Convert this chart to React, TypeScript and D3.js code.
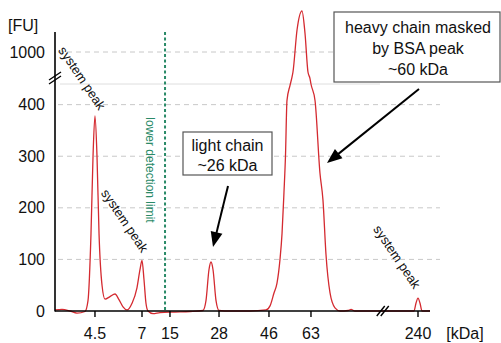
import React from "react";
import * as d3 from "d3";

// migration time (s) vs fluorescence (FU)
const traceTime = [20, 20.93, 22, 22.93, 24, 24.4, 24.8, 25.07, 25.33, 25.6, 25.87, 26.27, 26.67, 27.33, 28, 28.53, 29.07, 29.6, 30.27, 30.93, 31.33, 31.6, 31.87, 32.13, 32.4, 33.07, 34, 36, 38, 39.73, 40.13, 40.53, 40.8, 41.07, 41.47, 41.87, 43.33, 46, 48.13, 48.67, 49.2, 49.6, 50, 50.27, 50.53, 50.73, 50.93, 51.33, 51.6, 51.73, 52.27, 52.93, 53.33, 53.73, 54, 54.13, 54.67, 55.33, 55.73, 56.13, 56.67, 57.33, 58, 59.07, 59.47, 60, 63.33, 64.67, 67.87, 68.13, 68.4, 68.67, 68.93, 70];
const traceFU = [2, 3, 0, -4, -1, 20, 150, 300, 378, 300, 150, 50, 23, 28, 33, 22, 8, 2, 15, 45, 80, 98, 60, 15, 0, -5, -3, -2, -1, 1, 20, 80, 95, 80, 20, 1, 0, 0, 2, 10, 35, 54, 100, 150, 230, 300, 408, 437, 700, 900, 1110, 1205, 1095, 900, 650, 440, 408, 267, 215, 110, 35, 6, 0, 1, 3, 0, 0, 0, 0, 15, 25, 15, 0, 0];

const ladderLabels = ["4.5", "7", "15", "28", "46", "63", "240"];
const ladderTimes = [25.33, 31.6, 35.33, 41.87, 48.53, 54.13, 68.4];
const lowerGrid = [100, 200, 300, 400];
const upperGrid = [1000];
const yLabels = ["0", "100", "200", "300", "400", "1000"];
const yLabelValues = [0, 100, 200, 300, 400, 1000];
const detectionLimitTime = 34.67;
const xBreakTime = 63.7;
const systemPeakLabels = [
  { t: 23.6, v: 670, text: "system peak" },
  { t: 29.3, v: 175, text: "system peak" },
  { t: 65.6, v: 105, text: "system peak" },
];

const RED = "#d42a30";
const GREEN = "#2a8a68";
const FONT = "'Liberation Sans', Arial, sans-serif";

export default function App() {
  const W = 501, H = 343;
  const x = d3.scaleLinear().domain([20, 70]).range([55, 430]);
  // broken y axis: lower 0..440, gap, upper 900..1100
  const y = d3.scaleLinear().domain([0, 440, 900, 1100]).range([311, 84, 72, 32]);
  const pts: [number, number][] = traceTime.map((t, i) => [t, traceFU[i]]);
  const line = d3
    .line<[number, number]>()
    .x((d) => x(d[0]))
    .y((d) => y(d[1]))
    .curve(d3.curveMonotoneX);

  const arrow = (x1: number, y1: number, x2: number, y2: number) => {
    const ang = Math.atan2(y2 - y1, x2 - x1);
    const L = 15, Wd = 6;
    const bx = x2 - L * Math.cos(ang), by = y2 - L * Math.sin(ang);
    const px = -Math.sin(ang) * Wd, py = Math.cos(ang) * Wd;
    return (
      <g>
        <line x1={x1} y1={y1} x2={bx + 2 * Math.cos(ang)} y2={by + 2 * Math.sin(ang)} stroke="#000" strokeWidth={2} />
        <path d={`M${x2},${y2}L${bx + px},${by + py}L${bx - px},${by - py}Z`} fill="#000" />
      </g>
    );
  };

  const x0 = 55;
  return (
    <svg width={W} height={H} style={{ display: "block", position: "absolute", left: 0, top: 0 }} fontFamily={FONT}>
      <rect width={W} height={H} fill="#fff" />
      {/* gridlines */}
      {lowerGrid.concat(upperGrid).map((v) => (
        <line key={v} x1={58} x2={440} y1={y(v)} y2={y(v)} stroke="#c8c8c8" strokeWidth={1} strokeDasharray="5,4" />
      ))}
      <line x1={60} x2={380} y1={y(440)} y2={y(440)} stroke="#dedede" strokeWidth={1} />
      {/* detection limit */}
      <line x1={x(detectionLimitTime)} x2={x(detectionLimitTime)} y1={32} y2={311} stroke={GREEN} strokeWidth={2} strokeDasharray="3,2.5" />
      <text
        transform={`translate(${x(detectionLimitTime) - 15},${170}) rotate(90)`}
        textAnchor="middle"
        dominantBaseline="central"
        fontSize={12}
        fill={GREEN}
      >
        lower detection limit
      </text>
      {/* trace */}
      <path d={line(pts) || ""} fill="none" stroke={RED} strokeWidth={1.3} />
      {/* axes */}
      <line x1={x0} x2={x0} y1={32} y2={311.5} stroke="#000" strokeWidth={1.6} />
      <line x1={x0} x2={430} y1={311} y2={311} stroke="#000" strokeWidth={1.6} />
      {/* y break */}
      {[-2, 2].map((o) => (
        <line key={o} x1={x0 - 6} y1={78 + o + 4} x2={x0 + 6} y2={78 + o - 4} stroke="#000" strokeWidth={1.4} />
      ))}
      {/* x break */}
      {[-2, 2].map((o) => (
        <line key={o} x1={x(xBreakTime) + o - 4} y1={316} x2={x(xBreakTime) + o + 4} y2={306} stroke="#000" strokeWidth={1.4} />
      ))}
      {/* x ticks */}
      {ladderTimes.map((t, i) => (
        <g key={i}>
          <line x1={x(t)} x2={x(t)} y1={311} y2={317} stroke="#000" strokeWidth={1.4} />
          <text x={x(t)} y={339} textAnchor="middle" fontSize={16} fill="#111">
            {ladderLabels[i]}
          </text>
        </g>
      ))}
      <text x={465} y={339} textAnchor="middle" fontSize={16} fill="#111">[kDa]</text>
      {/* y labels */}
      {yLabelValues.map((v, i) => (
        <text key={v} x={45} y={y(v)} textAnchor="end" dominantBaseline="central" fontSize={16} fill="#111">
          {yLabels[i]}
        </text>
      ))}
      <text x={8} y={31} fontSize={16} fill="#111">[FU]</text>
      {/* system peak labels */}
      {systemPeakLabels.map((s, i) => (
        <text
          key={i}
          transform={`translate(${x(s.t)},${y(s.v)}) rotate(56)`}
          textAnchor="middle"
          dominantBaseline="central"
          fontSize={13}
          fill="#111"
        >
          {s.text}
        </text>
      ))}
      {/* light chain box */}
      <rect x={183} y={132} width={89} height={43} fill="#fff" stroke="#555" strokeWidth={1.2} />
      <text x={227.5} y={151} textAnchor="middle" fontSize={16} fill="#111">light chain</text>
      <text x={227.5} y={171} textAnchor="middle" fontSize={16} fill="#111">~26 kDa</text>
      {arrow(228, 186, 213, 247)}
      {/* heavy chain box */}
      <rect x={334} y={12} width={166} height={70} fill="#fff" stroke="#555" strokeWidth={1.2} />
      <text x={418} y={33} textAnchor="middle" fontSize={16} fill="#111">heavy chain masked</text>
      <text x={418} y={54} textAnchor="middle" fontSize={16} fill="#111">by BSA peak</text>
      <text x={418} y={75} textAnchor="middle" fontSize={16} fill="#111">~60 kDa</text>
      {arrow(419, 89, 327, 163)}
    </svg>
  );
}
